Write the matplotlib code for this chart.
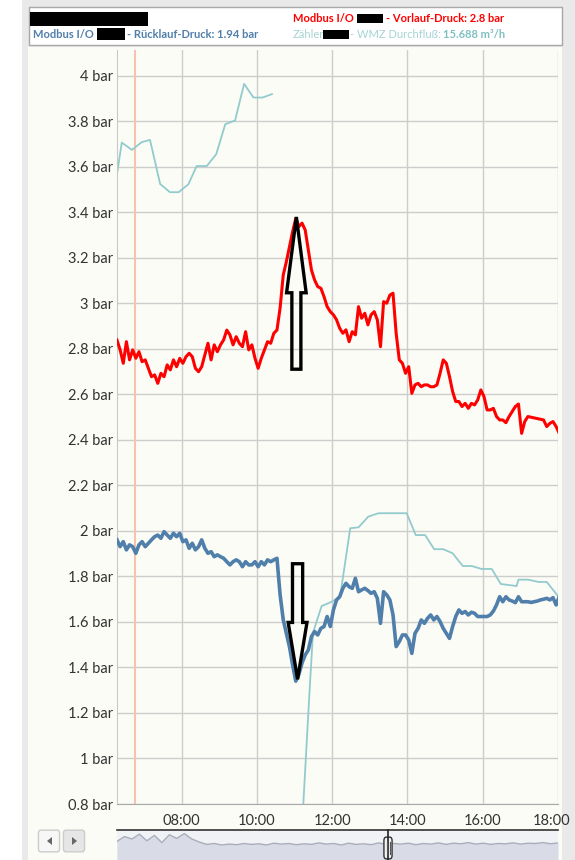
import numpy as np
import matplotlib.pyplot as plt
from matplotlib.patches import Rectangle, FancyArrow, FancyBboxPatch, Polygon
from matplotlib.lines import Line2D
from matplotlib.transforms import ScaledTranslation

plt.rcParams['font.family'] = ['Lato', 'DejaVu Sans']

W, H = 575, 860

# Vorlauf-Druck (rot), 5-Minuten-Werte ab 06:17
vorlauf = [2.839, 2.796, 2.737, 2.832, 2.752, 2.796, 2.759, 2.788, 2.744, 2.752,
           2.715, 2.678, 2.686, 2.649, 2.693, 2.678, 2.730, 2.708, 2.752, 2.722,
           2.759, 2.737, 2.766, 2.781, 2.766, 2.715, 2.700, 2.722, 2.774, 2.825,
           2.752, 2.818, 2.788, 2.818, 2.840, 2.883, 2.862, 2.818, 2.854, 2.825,
           2.810, 2.876, 2.796, 2.818, 2.759, 2.715, 2.759, 2.796, 2.832, 2.825,
           2.869, 2.883, 2.980, 3.125, 3.184, 3.250, 3.316, 3.374, 3.338, 3.353,
           3.323, 3.235, 3.147, 3.103, 3.074, 3.067, 3.030, 2.986, 2.964, 2.950,
           2.928, 2.891, 2.869, 2.884, 2.832, 2.876, 2.862, 2.986, 2.935, 2.957,
           2.906, 2.950, 2.964, 2.928, 2.810, 3.008, 3.001, 3.037, 3.045, 2.869,
           2.752, 2.737, 2.693, 2.722, 2.605, 2.642, 2.649, 2.634, 2.642, 2.642,
           2.634, 2.634, 2.642, 2.693, 2.752, 2.737, 2.679, 2.613, 2.569, 2.569,
           2.547, 2.561, 2.539, 2.561, 2.554, 2.576, 2.620, 2.591, 2.532, 2.532,
           2.539, 2.503, 2.488, 2.488, 2.476, 2.503, 2.525, 2.547, 2.558, 2.429,
           2.481, 2.503, 2.500, 2.497, 2.494, 2.491, 2.488, 2.459, 2.473, 2.481,
           2.459, 2.429]

# Ruecklauf-Druck (blau), gleiche Zeitbasis
ruecklauf = [1.961, 1.931, 1.953, 1.917, 1.939, 1.931, 1.902, 1.939, 1.953, 1.931,
             1.946, 1.961, 1.975, 1.982, 1.968, 1.997, 1.982, 1.968, 1.990, 1.975,
             1.990, 1.953, 1.961, 1.924, 1.946, 1.917, 1.931, 1.961, 1.924, 1.902,
             1.909, 1.887, 1.895, 1.887, 1.880, 1.865, 1.851, 1.865, 1.873, 1.865,
             1.843, 1.865, 1.851, 1.851, 1.865, 1.843, 1.865, 1.851, 1.873, 1.865,
             1.873, 1.880, 1.720, 1.610, 1.550, 1.490, 1.410, 1.340, 1.370, 1.420,
             1.455, 1.477, 1.536, 1.558, 1.543, 1.572, 1.580, 1.624, 1.580, 1.653,
             1.697, 1.711, 1.748, 1.770, 1.755, 1.748, 1.792, 1.733, 1.741, 1.748,
             1.738, 1.726, 1.733, 1.704, 1.594, 1.733, 1.719, 1.697, 1.631, 1.492,
             1.514, 1.543, 1.543, 1.521, 1.462, 1.550, 1.572, 1.609, 1.594, 1.616,
             1.631, 1.609, 1.624, 1.602, 1.572, 1.550, 1.528, 1.580, 1.624, 1.653,
             1.638, 1.646, 1.631, 1.643, 1.638, 1.624, 1.624, 1.624, 1.624, 1.631,
             1.648, 1.675, 1.711, 1.689, 1.711, 1.697, 1.692, 1.685, 1.711, 1.689,
             1.689, 1.689, 1.686, 1.689, 1.692, 1.697, 1.700, 1.704, 1.697, 1.707,
             1.675, 1.711]

t0 = 6 + 17 / 60
dt = 5 / 60

# WMZ Durchfluss (tuerkis)
flow_h = [6.28, 6.41, 6.68, 6.94, 7.16, 7.43, 7.69, 7.92, 8.18, 8.40, 8.67, 8.92,
          9.16, 9.42, 9.66, 9.91, 10.15, 10.40, np.nan,
          11.15, 11.39, 11.49, 11.72, 11.99, 12.21, 12.48, 12.70, 12.96, 13.23,
          13.98, 14.22, 14.47, 14.71, 14.95, 15.20, 15.47, 15.71, 15.97, 16.24,
          16.48, 16.90, 16.95, 17.21, 17.48, 17.70, 18.0]
flow_v = [3.565, 3.707, 3.675, 3.709, 3.719, 3.525, 3.489, 3.489, 3.524, 3.604,
          3.604, 3.656, 3.788, 3.804, 3.965, 3.905, 3.905, 3.920, np.nan,
          0.55, 1.270, 1.552, 1.670, 1.689, 1.711, 2.012, 2.016, 2.063, 2.078,
          2.078, 1.982, 1.982, 1.920, 1.920, 1.902, 1.846, 1.846, 1.833, 1.833,
          1.767, 1.758, 1.786, 1.786, 1.776, 1.776, 1.714]

marker_h = 6.765  # orange Linie

nav_vals = [0.62, 0.78, 0.70, 0.86, 0.64, 0.82, 0.58, 0.84, 0.72, 0.88, 0.70, 0.60,
            0.52, 0.55, 0.50, 0.53, 0.51, 0.55, 0.52, 0.54, 0.50, 0.56, 0.53, 0.55,
            0.51, 0.54, 0.52, 0.57, 0.53, 0.55, 0.50, 0.56, 0.52, 0.54, 0.51, 0.57,
            0.52, 0.55, 0.53, 0.56, 0.51, 0.55, 0.53, 0.57, 0.52, 0.56, 0.54, 0.58,
            0.53, 0.56, 0.52, 0.55, 0.54, 0.57, 0.53, 0.56, 0.55, 0.58, 0.54, 0.57]

x_ticks = [8, 10, 12, 14, 16, 18]
x_labels = ['08:00', '10:00', '12:00', '14:00', '16:00', '18:00']
y_ticks = np.round(np.arange(0.8, 4.01, 0.2), 1)

red = '#ff0000'
blue = '#4f7faa'
teal = '#92cbcd'
teal_txt = '#a6d4d5'
bg = '#fcfcf6'


def fx(px):
    return px / W


def fy(py):
    return 1 - py / H


def black_box(x0, y0, x1, y1):
    fig.add_artist(Rectangle((fx(x0), fy(y1)), fx(x1 - x0), (y1 - y0) / H,
                             transform=fig.transFigure, fc='black', ec='none', zorder=5))


fig = plt.figure(figsize=(W / 100, H / 100), dpi=100)
fig.patch.set_facecolor('white')

# Rahmen / Hintergrund
fig.add_artist(Rectangle((fx(22), 0), fx(575) - fx(22), 1, transform=fig.transFigure,
                         fc='#e9e9e9', ec='none', zorder=-20))
fig.add_artist(Rectangle((fx(28), 0), fx(562) - fx(28), fy(47), transform=fig.transFigure,
                         fc=bg, ec='none', zorder=-19))
fig.add_artist(Rectangle((fx(28.5), fy(45)), fx(533), 38 / H, transform=fig.transFigure,
                         fc='white', ec='#a8a8a8', lw=1, zorder=-18))

# Kopfzeile
fs = 8
black_box(30, 11.5, 148, 26)
fig.text(fx(33), fy(34), 'Modbus I/O', color=blue, fontsize=fs, fontweight='bold', va='center')
black_box(97, 28.5, 125, 39.5)
fig.text(fx(127), fy(34), '- Rücklauf-Druck: 1.94 bar', color=blue, fontsize=fs,
         fontweight='bold', va='center')
fig.text(fx(293), fy(18), 'Modbus I/O', color=red, fontsize=fs, fontweight='bold', va='center')
black_box(357, 14, 383, 23)
fig.text(fx(386), fy(18), '- Vorlauf-Druck: 2.8 bar', color=red, fontsize=fs,
         fontweight='bold', va='center')
fig.text(fx(293), fy(34), 'Zähler', color=teal_txt, fontsize=fs, va='center')
black_box(323, 29.5, 349, 38.5)
fig.text(fx(350), fy(34), '- WMZ Durchfluß:', color=teal_txt, fontsize=fs, va='center')
fig.text(fx(443), fy(34), '15.688 m³/h', color='#7fc0c2', fontsize=fs,
         fontweight='bold', va='center')

# Hauptdiagramm
ax = fig.add_axes([fx(117), fy(804), fx(558) - fx(117), fy(50) - fy(804)])
ax.set_facecolor(bg)
t = t0 + dt * np.arange(len(vorlauf))
ax.axvline(marker_h, color='#f7c3b1', lw=1.5, zorder=1)
ax.plot(flow_h, flow_v, color=teal, lw=1.3, zorder=2)
ax.plot(t, ruecklauf, color=blue, lw=2.6, zorder=3)
ax.plot(t, vorlauf, color=red, lw=2.2, zorder=4)

# Pfeile (Markierungen)
ax.add_patch(FancyArrow(11.049, 2.711, 0, 3.380 - 2.711, width=0.24, head_width=0.52,
                        head_length=0.333, length_includes_head=True, fill=False,
                        ec='black', lw=2.4, zorder=6))
ax.add_patch(FancyArrow(11.081, 1.856, 0, 1.348 - 1.856, width=0.27, head_width=0.50,
                        head_length=0.25, length_includes_head=True, fill=False,
                        ec='black', lw=2.4, zorder=6))

ax.set_xlim(t0, 18.0)
ax.set_ylim(0.8, 4.114)
ax.set_xticks(x_ticks)
ax.set_xticklabels(x_labels)
ax.set_yticks(y_ticks)
ax.set_yticklabels([f'{v:g} bar' for v in y_ticks])
ax.set_axisbelow(True)
ax.grid(True, color='#cdcdcd', lw=1)
ax.tick_params(length=0, labelsize=10.5, colors='#333333')
ax.tick_params(axis='x', pad=7)
ax.tick_params(axis='y', pad=3)
for s in ['top', 'right']:
    ax.spines[s].set_visible(False)
ax.spines['left'].set_color('#c8c8c8')
ax.spines['bottom'].set_color('#a9a9a9')
last = ax.get_xticklabels()[-1]
last.set_transform(last.get_transform() + ScaledTranslation(-6 / 100, 0, fig.dpi_scale_trans))

# Navigator
nav = fig.add_axes([fx(117), 0, fx(558) - fx(117), 30 / H])
nav.set_facecolor('#f1f2f5')
xn = np.arange(len(nav_vals))
nav.fill_between(xn, 0, nav_vals, color='#d9dce6', lw=0)
nav.plot(xn, nav_vals, color='#a9adba', lw=1)
nav.set_xlim(0, len(nav_vals) - 1)
nav.set_ylim(0, 1)
nav.set_xticks([])
nav.set_yticks([])
for s in ['left', 'right', 'bottom']:
    nav.spines[s].set_visible(False)
nav.spines['top'].set_color('#333333')
nav.spines['top'].set_linewidth(1.2)

# Griff
fig.add_artist(Line2D([fx(388), fx(388)], [0, fy(830)], transform=fig.transFigure,
                      color='#222222', lw=1.2))
fig.add_artist(FancyBboxPatch((fx(384.5), fy(858)), fx(7), 20 / H,
                              boxstyle='round,pad=0.001,rounding_size=0.004',
                              transform=fig.transFigure, fc='#f2f2f2', ec='#333333', lw=1))
fig.add_artist(Line2D([fx(387), fx(387)], [fy(854), fy(842)], transform=fig.transFigure,
                      color='#555555', lw=0.8))
fig.add_artist(Line2D([fx(389.5), fx(389.5)], [fy(854), fy(842)], transform=fig.transFigure,
                      color='#555555', lw=0.8))

# Scroll-Buttons
for x0, fc in [(39, '#f7f7f7'), (64, '#e6e6e6')]:
    fig.add_artist(FancyBboxPatch((fx(x0), fy(851)), fx(20), 20 / H,
                                  boxstyle='round,pad=0.001,rounding_size=0.004',
                                  transform=fig.transFigure, fc=fc, ec='#cccccc', lw=1))
fig.add_artist(Polygon([[fx(52), fy(837)], [fx(52), fy(845)], [fx(47), fy(841)]],
                       closed=True, transform=fig.transFigure, fc='#666666', ec='none'))
fig.add_artist(Polygon([[fx(72), fy(837)], [fx(72), fy(845)], [fx(77), fy(841)]],
                       closed=True, transform=fig.transFigure, fc='#666666', ec='none'))

fig.savefig('out.png', dpi=100, facecolor=fig.get_facecolor())
